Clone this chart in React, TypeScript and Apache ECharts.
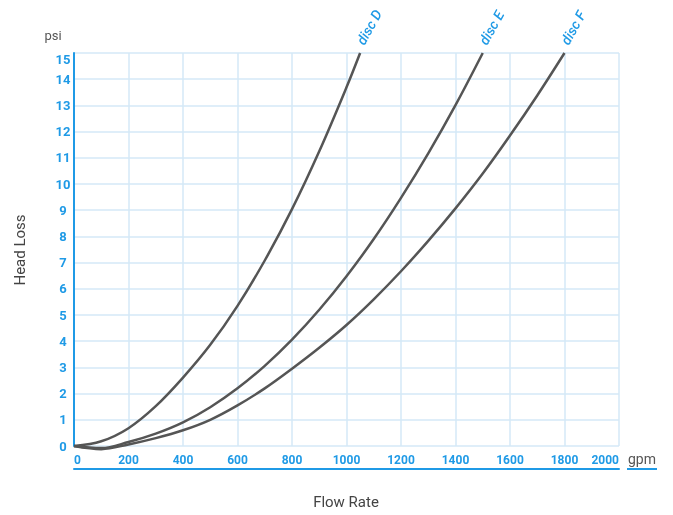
import React, { useEffect, useRef } from "react";
import * as echarts from "echarts";

const gpmTicks = [0, 200, 400, 600, 800, 1000, 1200, 1400, 1600, 1800, 2000];
const psiTicks = [0, 1, 2, 3, 4, 5, 6, 7, 8, 9, 10, 11, 12, 13, 14, 15];

const discDFlow = [0, 100, 200, 300, 400, 500, 600, 700, 800, 900, 1000, 1050];
const discDLoss = [0, 0.18, 0.68, 1.52, 2.61, 3.86, 5.35, 7.08, 9.04, 11.25, 13.69, 15];

const discEFlow = [0, 100, 200, 300, 400, 500, 600, 700, 800, 900, 1000, 1100, 1200, 1300, 1400, 1500];
const discELoss = [0, -0.08, 0.15, 0.47, 0.9, 1.48, 2.2, 3.06, 4.06, 5.2, 6.48, 7.9, 9.47, 11.17, 13.01, 15];

const discFFlow = [0, 100, 200, 300, 400, 500, 600, 700, 800, 900, 1000, 1100, 1200, 1300, 1400, 1500, 1600, 1700, 1800];
const discFLoss = [0, -0.12, 0.06, 0.3, 0.6, 1.0, 1.55, 2.2, 2.95, 3.75, 4.62, 5.6, 6.67, 7.83, 9.07, 10.4, 11.85, 13.38, 15];

const seriesNames = ["disc D", "disc E", "disc F"];

const BLUE = "#1f9ae6";
const GRID = "#d5e8f7";
const CURVE = "#555555";
const FONT = "Roboto, 'Noto Sans', sans-serif";

function pairs(xs: number[], ys: number[]) {
  return xs.map((x, i) => [x, ys[i]]);
}

export default function App() {
  const ref = useRef<HTMLDivElement>(null);
  useEffect(() => {
    if (!ref.current) return;
    const chart = echarts.init(ref.current, null, { renderer: "svg" });
    const datasets = [
      pairs(discDFlow, discDLoss),
      pairs(discEFlow, discELoss),
      pairs(discFFlow, discFLoss),
    ];
    chart.setOption({
      animation: false,
      grid: { left: 74, right: 54, top: 53, bottom: 69, containLabel: false },
      xAxis: [
        {
          type: "value",
          min: gpmTicks[0],
          max: gpmTicks[gpmTicks.length - 1],
          interval: 200,
          axisLine: { show: false },
          axisTick: { show: false },
          axisLabel: {
            color: BLUE,
            fontFamily: FONT,
            fontWeight: "bold",
            fontSize: 12,
            margin: 8,
            alignMinLabel: "left",
            alignMaxLabel: "right",
            formatter: (v: number) => String(v),
          },
          splitLine: { show: true, lineStyle: { color: GRID, width: 1.5 } },
        },
        {
          type: "value",
          min: gpmTicks[0],
          max: gpmTicks[gpmTicks.length - 1],
          interval: 200,
          position: "bottom",
          offset: 23,
          axisLine: { show: true, lineStyle: { color: BLUE, width: 2 } },
          axisTick: { show: false },
          axisLabel: { show: false },
          splitLine: { show: false },
        },
      ],
      yAxis: {
        type: "value",
        min: psiTicks[0],
        max: psiTicks[psiTicks.length - 1],
        interval: 1,
        offset: 22,
        axisLine: { show: true, lineStyle: { color: BLUE, width: 2 } },
        axisTick: { show: false },
        axisLabel: {
          inside: true,
          align: "center",
          margin: 11,
          color: BLUE,
          fontFamily: FONT,
          fontWeight: "bold",
          fontSize: 13,
          verticalAlignMaxLabel: "top",
          formatter: (v: number) => String(v),
        },
        splitLine: { show: true, lineStyle: { color: GRID, width: 1.5 } },
      },
      series: datasets.map((d, i) => ({
        name: seriesNames[i],
        type: "line",
        xAxisIndex: 0,
        data: d,
        smooth: 0.35,
        symbol: "none",
        clip: false,
        lineStyle: { color: CURVE, width: 2.5 },
      })),
    });

    const labels = datasets.map((d, i) => {
      const last = d[d.length - 1];
      const p = chart.convertToPixel({ seriesIndex: i }, last) as number[];
      return {
        type: "text",
        x: p[0] + 6,
        y: p[1] - 6,
        rotation: (61 * Math.PI) / 180,
        style: {
          text: seriesNames[i],
          fill: BLUE,
          font: `italic 500 14px ${FONT}`,
          textAlign: "left",
          textVerticalAlign: "bottom",
        },
      };
    });

    chart.setOption({
      graphic: [
        ...labels,
        {
          type: "text",
          x: 53,
          y: 35,
          style: {
            text: "psi",
            fill: "#555",
            font: `13px ${FONT}`,
            textAlign: "center",
            textVerticalAlign: "middle",
          },
        },
        {
          type: "text",
          x: 20,
          y: 250,
          rotation: Math.PI / 2,
          style: {
            text: "Head Loss",
            fill: "#444",
            font: `15px ${FONT}`,
            textAlign: "center",
            textVerticalAlign: "middle",
          },
        },
        {
          type: "text",
          x: 346,
          y: 502,
          style: {
            text: "Flow Rate",
            fill: "#444",
            font: `15px ${FONT}`,
            textAlign: "center",
            textVerticalAlign: "middle",
          },
        },
        {
          type: "text",
          x: 642,
          y: 459,
          style: {
            text: "gpm",
            fill: "#555",
            font: `14px ${FONT}`,
            textAlign: "center",
            textVerticalAlign: "middle",
          },
        },
        {
          type: "line",
          shape: { x1: 627, y1: 469, x2: 657, y2: 469 },
          style: { stroke: BLUE, lineWidth: 2 },
        },
      ],
    });

    return () => chart.dispose();
  }, []);
  return (
    <div
      ref={ref}
      style={{ position: "fixed", left: 0, top: 0, width: 673, height: 515 }}
    />
  );
}
